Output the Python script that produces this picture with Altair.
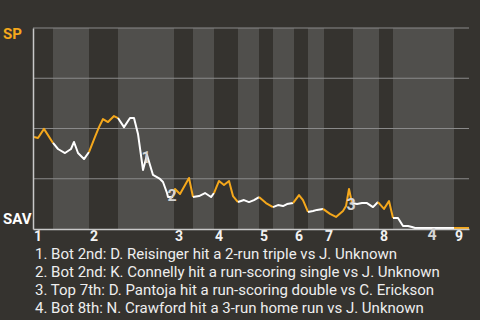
import bisect
import altair as alt
import pandas as pd

BG = "#35332f"
BAND = "#504f4c"
ORANGE = "#f5a81c"
WHITE = "#ffffff"
GRID = "#8a8a8a"

# game progress (x) and SP win probability in % (y)
progress = [1, 5, 11, 20,
            25, 32, 38, 41, 45, 51, 56,
            62, 66, 70, 75, 81, 85,
            91, 97, 101, 105, 110, 114, 120, 127, 130, 134, 135, 140,
            142, 147, 156, 160,
            166, 172, 178, 181,
            186, 191, 196, 200, 205,
            211, 216, 221, 226,
            233, 240,
            245, 250, 254, 260,
            266, 270, 275,
            280, 284, 290,
            297, 303, 310, 313, 316, 319,
            324, 329, 334, 340, 345,
            351, 356, 360,
            365, 370, 375, 379, 382, 421,
            436]
sp_win = [45.8, 45.3, 49.8, 42.8,
          39.8, 37.8, 39.8, 43.3, 37.8, 34.8, 38.3,
          45.8, 50.7, 54.7, 53.2, 56.2, 55.2,
          50.7, 55.2, 55.2, 47.3, 29.4, 36.8, 26.9, 24.9, 23.4, 17.9, 15.9, 15.9,
          19.9, 17.4, 25.4, 15.9,
          16.4, 17.9, 15.9, 17.9,
          23.9, 21.9, 23.9, 16.4, 13.4,
          14.4, 13.4, 14.4, 15.9,
          12.9, 10.9,
          11.9, 11.4, 12.4, 12.9,
          16.9, 14.4, 8.5,
          9.0, 9.5, 10.0,
          7.5, 6.0, 9.0, 11.4, 19.9, 12.9,
          12.4, 12.9, 12.9, 10.9, 13.4,
          10.0, 13.9, 5.5,
          5.5, 1.5, 1.5, 1.0, 0.5, 0.5,
          0.5]

# start of every half inning (top 1, bot 1, top 2, ...) and game end
half_starts = [0, 20, 56, 85, 141, 160, 181, 205, 226, 240, 261, 275, 291, 320, 346, 360, 421]
game_end = 436
inning_names = ["1", "2", "3", "4", "5", "6", "7", "8", "9"]

# key events
event_ids = ["1", "2", "3", "4"]
event_x = [113, 139, 318, 399]
event_y = [35.3, 16.4, 11.9, -3.0]
event_text = [
    "1. Bot 2nd: D. Reisinger hit a 2-run triple vs J. Unknown",
    "2. Bot 2nd: K. Connelly hit a run-scoring single vs J. Unknown",
    "3. Top 7th: D. Pantoja hit a run-scoring double vs C. Erickson",
    "4. Bot 8th: N. Crawford hit a 3-run home run vs J. Unknown",
]

# ---- build tables ----
halves = [bisect.bisect_left(half_starts, x) - 1 for x in progress]
rows = []
prev = None
for h in sorted(set(halves)):
    pts = [(x, y) for x, y, hh in zip(progress, sp_win, halves) if hh == h]
    if prev is not None:
        pts = [prev] + pts
    side = "top" if h % 2 == 0 else "bot"
    for x, y in pts:
        rows.append({"x": x, "wp": y, "seg": h, "side": side})
    prev = pts[-1]
line_df = pd.DataFrame(rows)

bounds = half_starts + [game_end]
band_df = pd.DataFrame({
    "x0": [bounds[i] for i in range(1, len(half_starts), 2)],
    "x1": [bounds[i + 1] for i in range(1, len(half_starts), 2)],
})
inning_df = pd.DataFrame({"x": half_starts[0::2], "label": inning_names, "y": [-4.0] * 9})
event_df = pd.DataFrame({"x": event_x, "y": event_y, "id": event_ids})
grid_df = pd.DataFrame({"y": [25, 50, 75, 100]})
team_df = pd.DataFrame({"x": [-30, -30], "y": [97, 5], "t": ["SP", "SAV"], "c": [ORANGE, WHITE]})

xs = alt.Scale(domain=[0, game_end], nice=False, zero=False)
ys = alt.Scale(domain=[0, 100], nice=False)
ax = alt.Axis(labels=False, ticks=False, grid=False, title=None, domainColor="#c8c8c8", domainWidth=1.5, zindex=1)

bands = alt.Chart(band_df).mark_rect(color=BAND).encode(
    x=alt.X("x0:Q", scale=xs, axis=ax), x2="x1:Q",
    y=alt.datum(0, scale=ys, axis=ax), y2=alt.datum(100),
)
grid = alt.Chart(grid_df).mark_rule(color=GRID, strokeWidth=1.2).encode(
    y=alt.Y("y:Q", scale=ys, axis=ax)
)
line = alt.Chart(line_df).mark_line(strokeWidth=2, strokeJoin="round").encode(
    x=alt.X("x:Q", scale=xs, axis=ax),
    y=alt.Y("wp:Q", scale=ys, axis=ax),
    detail="seg:N",
    order="x:Q",
    color=alt.Color("side:N", scale=alt.Scale(domain=["top", "bot"], range=[ORANGE, WHITE]), legend=None),
)
innings = alt.Chart(inning_df).mark_text(
    align="left", dx=1, baseline="middle", fontSize=14, fontWeight="bold", font="Roboto", color="#f2f2f2"
).encode(x=alt.X("x:Q", scale=xs, axis=ax), y=alt.Y("y:Q", scale=ys, axis=ax), text="label:N")
events = alt.Chart(event_df).mark_text(
    align="center", baseline="middle", fontSize=16, fontWeight="bold", font="Roboto", color="#d4d4d4"
).encode(x=alt.X("x:Q", scale=xs, axis=ax), y=alt.Y("y:Q", scale=ys, axis=ax), text="id:N")
teams = alt.Chart(team_df).mark_text(
    align="left", baseline="middle", fontSize=15, fontWeight="bold", font="Roboto"
).encode(
    x=alt.X("x:Q", scale=xs, axis=ax), y=alt.Y("y:Q", scale=ys, axis=ax), text="t:N",
    color=alt.Color("c:N", scale=None),
)

chart = alt.layer(bands, grid, line, innings, events, teams).properties(
    width=436, height=201,
    padding={"left": 33, "top": 28, "right": 11, "bottom": 91},
    autosize=alt.AutoSizeParams(type="none"),
    background=BG,
    title=alt.TitleParams(
        text=event_text, orient="bottom", anchor="start", frame="group", fontSize=15, lineHeight=18,
        font="Roboto", fontWeight="normal", color="#eeeeee", offset=3, dx=2,
    ),
).configure_view(stroke=None).configure_axis(labels=False)

chart.save("out.html", embed_options={"renderer": "svg", "actions": False})
